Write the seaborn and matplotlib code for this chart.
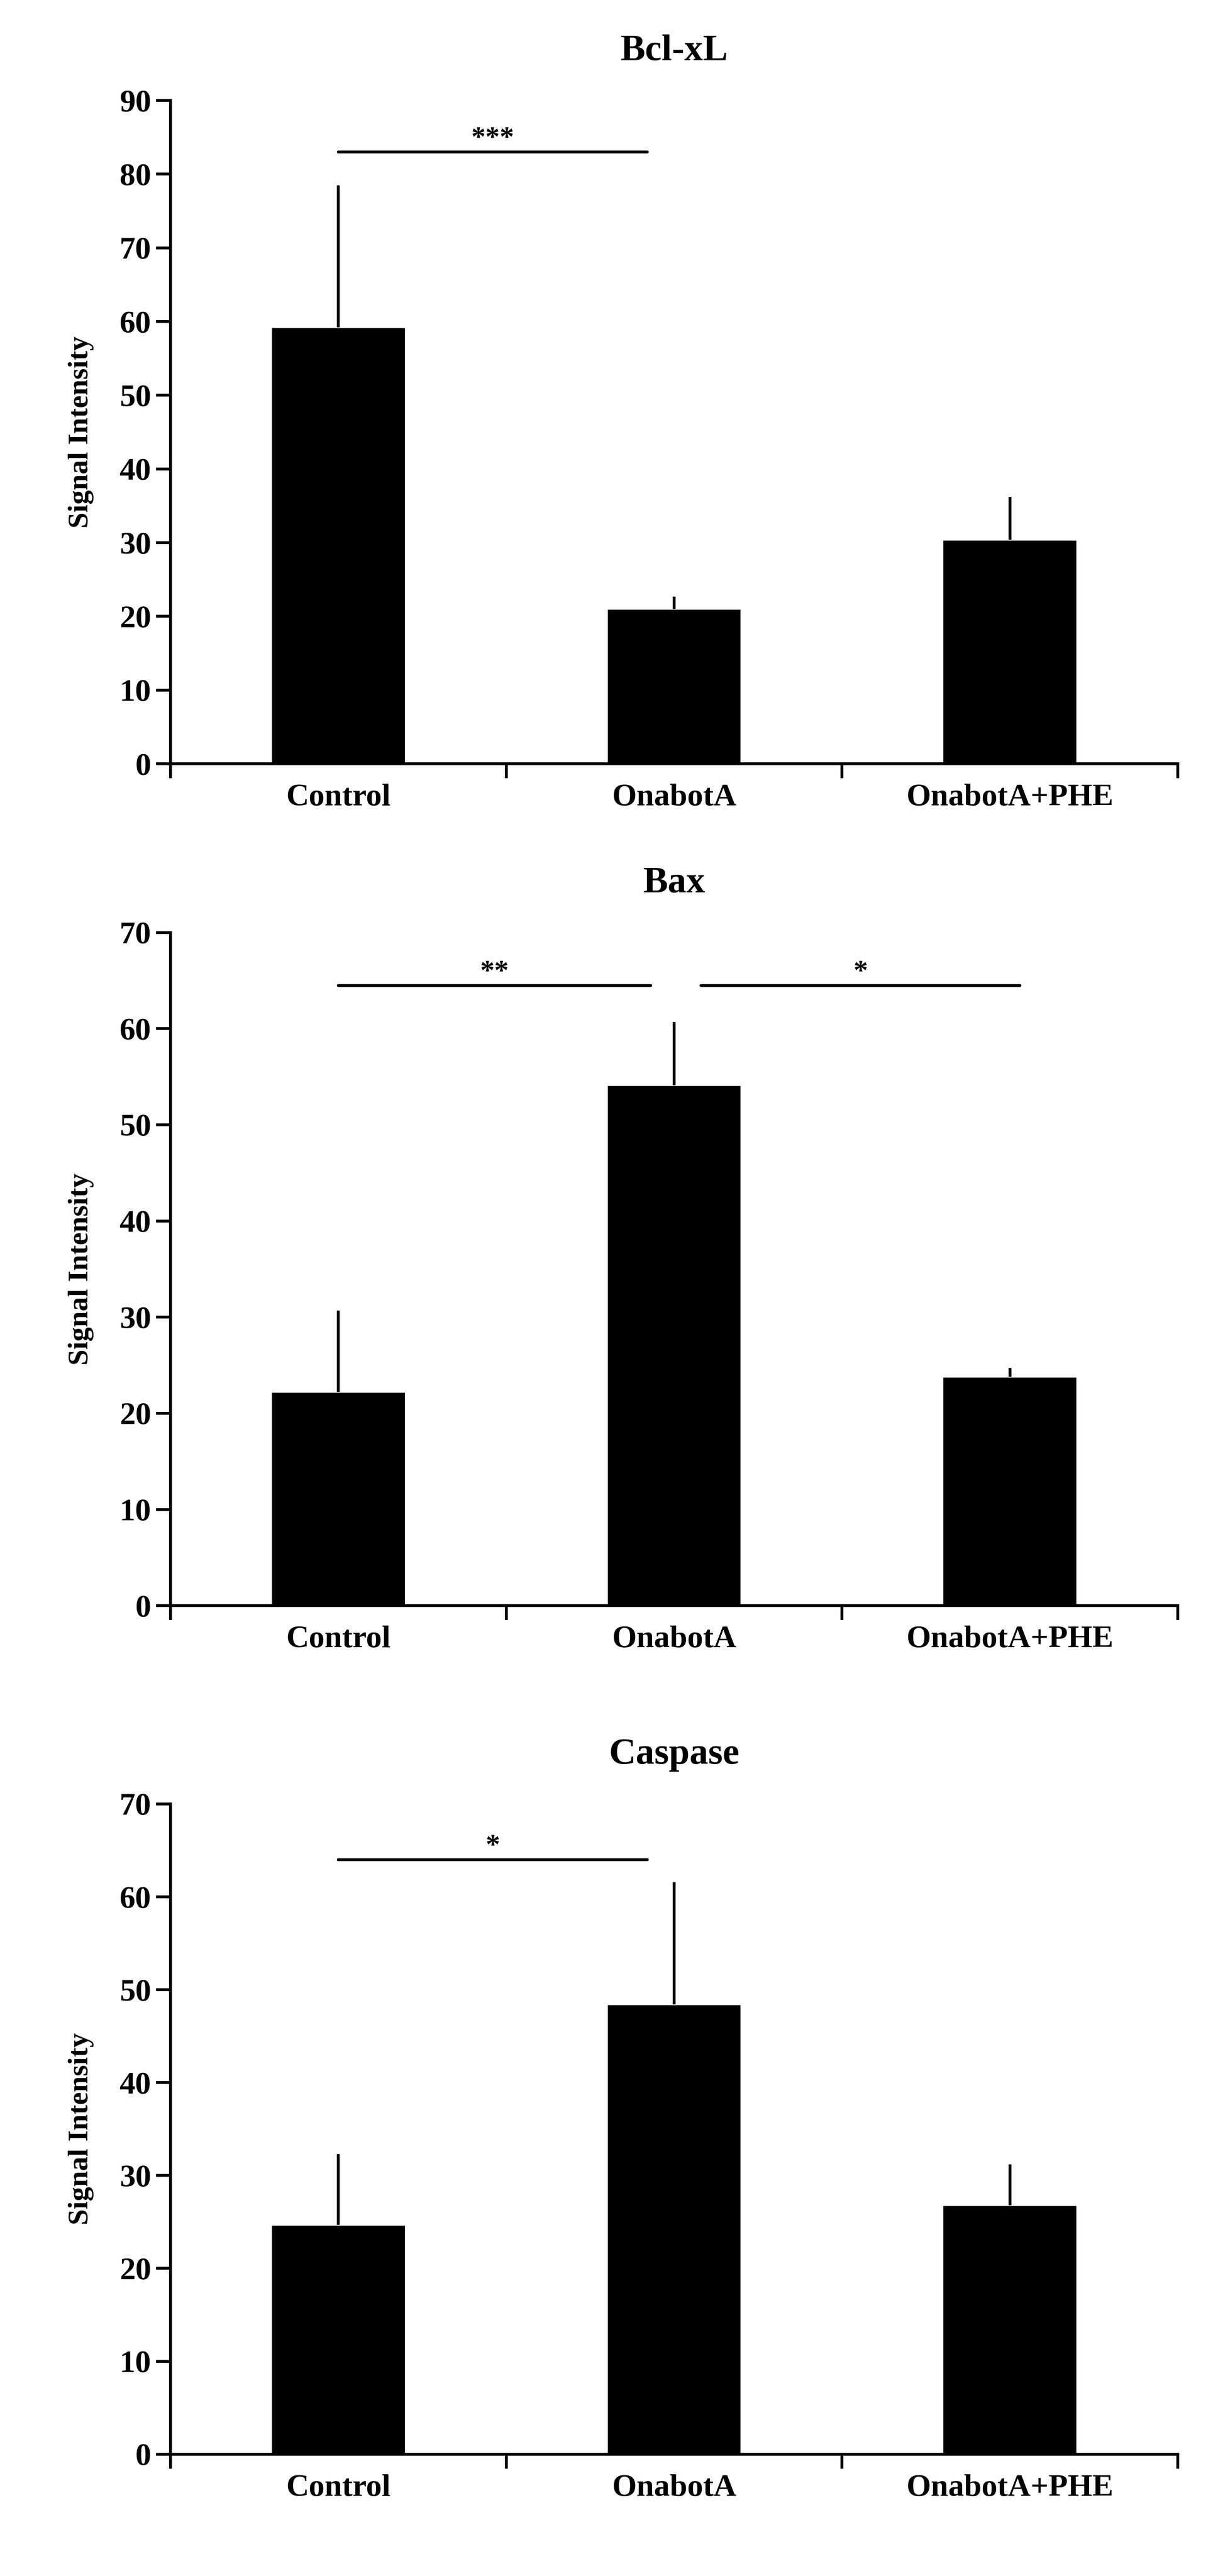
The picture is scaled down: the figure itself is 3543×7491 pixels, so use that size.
import numpy as np
import pandas as pd
import matplotlib.pyplot as plt
import seaborn as sns

groups = ["Control", "OnabotA", "OnabotA+PHE"]
titles = ["Bcl-xL", "Bax", "Caspase"]
bcl_mean = [59.2, 21.0, 30.4]
bcl_err = [19.3, 1.7, 5.8]
bax_mean = [22.2, 54.1, 23.8]
bax_err = [8.5, 6.6, 0.9]
casp_mean = [24.7, 48.4, 26.8]
casp_err = [7.6, 13.2, 4.4]
ymaxes = [90, 70, 70]
# significance bars: (x0, x1, y, label)
sig = [
    [(0.0, 0.92, 83, "***")],
    [(0.0, 0.93, 64.5, "**"), (1.08, 2.03, 64.5, "*")],
    [(0.0, 0.92, 64, "*")],
]

sns.set_style("ticks")
plt.rcParams['font.family'] = ['Liberation Serif', 'DejaVu Serif']
plt.rcParams['font.weight'] = 'bold'
plt.rcParams['text.color'] = 'black'
plt.rcParams['axes.labelcolor'] = 'black'
plt.rcParams['xtick.color'] = 'black'
plt.rcParams['ytick.color'] = 'black'
plt.rcParams['axes.edgecolor'] = 'black'

fig = plt.figure(figsize=(11.81, 24.97), dpi=300)
boxes = [(0.7035, 0.961), (0.3767, 0.638), (0.0473, 0.2997)]
means = [bcl_mean, bax_mean, casp_mean]
errs = [bcl_err, bax_err, casp_err]

for k in range(3):
    b, t = boxes[k]
    ax = fig.add_axes([0.14, b, 0.827, t - b])
    df = pd.DataFrame({"group": groups, "value": means[k]})
    sns.barplot(data=df, x="group", y="value", color="black", width=0.4,
                saturation=1, ax=ax, errorbar=None)
    ax.errorbar(range(3), means[k], yerr=[np.zeros(3), errs[k]], fmt="none",
                ecolor="black", elinewidth=2, capsize=0)
    ax.set_xlim(-0.5, 2.5)
    ax.set_ylim(0, ymaxes[k])
    ax.set_yticks(np.arange(0, ymaxes[k] + 1, 10))
    ax.set_xticks([-0.5, 0.5, 1.5, 2.5], minor=False)
    ax.set_xticklabels([])
    ax.set_xticks([0, 1, 2], minor=True)
    ax.set_xticklabels(groups, minor=True, fontsize=22, fontweight="bold")
    ax.tick_params(axis="x", which="minor", length=0, pad=14)
    ax.tick_params(axis="x", which="major", length=10, width=2)
    ax.tick_params(axis="y", labelsize=22, length=10, width=2)
    for lab in ax.get_yticklabels():
        lab.set_fontweight("bold")
    for s in ["left", "bottom"]:
        ax.spines[s].set_linewidth(2)
    sns.despine(ax=ax)
    ax.set_xlabel("")
    ax.set_ylabel("Signal Intensity", fontsize=20, fontweight="bold", labelpad=18)
    ax.set_title(titles[k], fontsize=26, fontweight="bold", pad=28)
    for x0, x1, y, lab in sig[k]:
        ax.plot([x0, x1], [y, y], color="black", lw=2)
        ax.text((x0 + x1) / 2, y, lab, ha="center", va="bottom", fontsize=20)

fig.savefig("out.png", dpi=300)
